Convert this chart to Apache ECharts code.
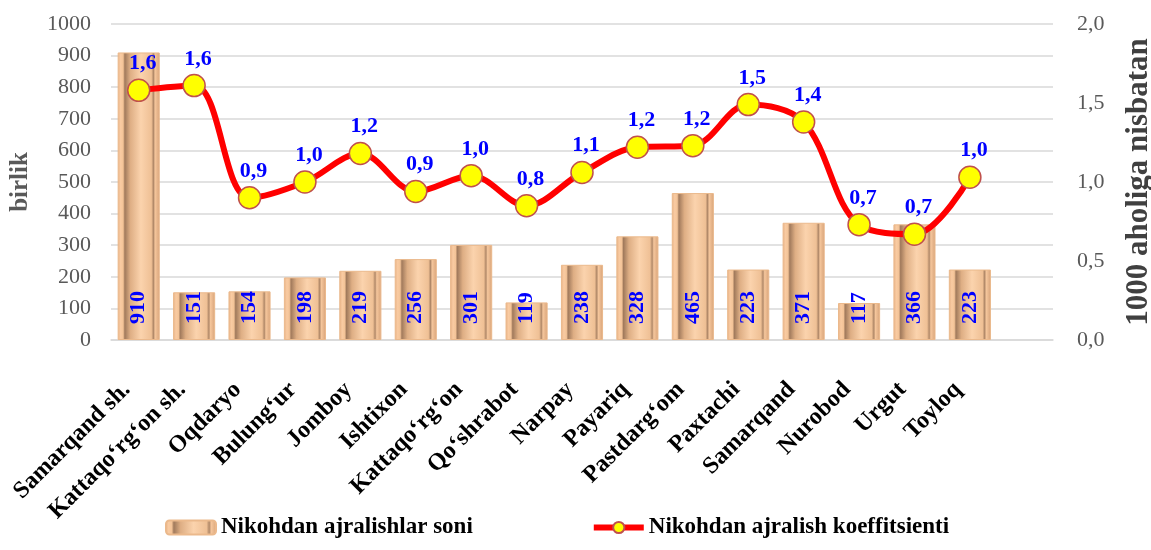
<!DOCTYPE html>
<html>
<head>
<meta charset="utf-8">
<script src="https://cdn.jsdelivr.net/npm/echarts@6/dist/echarts.min.js"></script>
<style>
  html, body { margin: 0; padding: 0; background: #fff; }
  #chart { width: 1151px; height: 550px; }
</style>
</head>
<body>
<div id="chart"></div>
<script>
// tumanlar (oxirgisi bo'sh joy)
var categories = [
  "Samarqand sh.", "Kattaqo\u2018rg\u2018on sh.", "Oqdaryo", "Bulung\u2018ur", "Jomboy",
  "Ishtixon", "Kattaqo\u2018rg\u2018on", "Qo\u2018shrabot", "Narpay", "Payariq",
  "Pastdarg\u2018om", "Paxtachi", "Samarqand", "Nurobod", "Urgut", "Toyloq", ""
];
var divorceCount = [910, 151, 154, 198, 219, 256, 301, 119, 238, 328, 465, 223, 371, 117, 366, 223, null];
var divorceRate = [1.58, 1.61, 0.90, 1.00, 1.18, 0.94, 1.04, 0.85, 1.06, 1.22, 1.23, 1.49, 1.38, 0.73, 0.67, 1.03, null];
var leftTicks = [0, 1000, 100];
var rightTicks = [0, 2, 0.5];

var serif = "Liberation Serif";
var chart = echarts.init(document.getElementById("chart"));

function comma(v, digits) {
  return Number(v).toFixed(digits).replace(".", ",");
}

var option = {
  animation: false,
  textStyle: { fontFamily: serif },
  grid: { left: 111, right: 98, top: 24, bottom: 210, containLabel: false, outerBoundsMode: "none" },
  legend: {
    bottom: 6,
    left: 160,
    itemGap: 118,
    itemWidth: 50,
    itemHeight: 14,
    textStyle: { fontFamily: serif, fontWeight: "bold", fontSize: 23, color: "#000" },
    data: [
      { name: "Nikohdan ajralishlar soni" },
      { name: "Nikohdan ajralish koeffitsienti", lineStyle: { width: 6 } }
    ]
  },
  xAxis: {
    type: "category",
    data: categories,
    axisTick: { show: false },
    axisLine: { lineStyle: { color: "#d9d9d9", width: 1.5 } },
    axisLabel: {
      interval: 0,
      rotate: 45,
      margin: 34,
      padding: [0, 17, 0, 0],
      fontFamily: serif,
      fontWeight: "bold",
      fontSize: 24,
      color: "#000"
    }
  },
  yAxis: [
    {
      type: "value",
      min: leftTicks[0],
      max: leftTicks[1],
      interval: leftTicks[2],
      name: "birlik",
      nameLocation: "middle",
      nameGap: 78,
      nameRotate: 90,
      nameTextStyle: { fontFamily: serif, fontWeight: "bold", fontSize: 25, color: "#595959" },
      axisLine: { show: false },
      axisTick: { show: false },
      axisLabel: {
        fontFamily: serif, fontSize: 22, color: "#595959", margin: 20,
        formatter: function (v) { return String(v); }
      },
      splitLine: { lineStyle: { color: "#d9d9d9", width: 1.5 } }
    },
    {
      type: "value",
      min: rightTicks[0],
      max: rightTicks[1],
      interval: rightTicks[2],
      position: "right",
      name: "1000 aholiga nisbatan",
      nameLocation: "middle",
      nameGap: 70,
      nameRotate: 90,
      nameTextStyle: { fontFamily: serif, fontWeight: "bold", fontSize: 31, color: "#404040" },
      axisLine: { show: false },
      axisTick: { show: false },
      splitLine: { show: false },
      axisLabel: {
        fontFamily: serif, fontSize: 22, color: "#595959", margin: 24,
        formatter: function (v) { return comma(v, 1); }
      }
    }
  ],
  series: [
    {
      name: "Nikohdan ajralishlar soni",
      type: "bar",
      yAxisIndex: 0,
      data: divorceCount,
      barWidth: "76%",
      itemStyle: {
        color: new echarts.graphic.LinearGradient(0, 0, 1, 0, [
          { offset: 0, color: "#e6b084" },
          { offset: 0.07, color: "#f9cba2" },
          { offset: 0.13, color: "#f3c397" },
          { offset: 0.17, color: "#a17a5c" },
          { offset: 0.3, color: "#deae84" },
          { offset: 0.55, color: "#fbd3ad" },
          { offset: 0.8, color: "#efc095" },
          { offset: 0.85, color: "#b08868" },
          { offset: 0.89, color: "#f5c69c" },
          { offset: 1, color: "#d6a278" }
        ]),
        borderColor: "#ebb98c",
        borderWidth: 1
      },
      label: {
        show: true,
        position: "insideBottom",
        rotate: 90,
        align: "left",
        verticalAlign: "middle",
        distance: 16,
        fontFamily: serif,
        fontWeight: "bold",
        fontSize: 22,
        color: "#0000ff"
      },
      z: 2
    },
    {
      name: "Nikohdan ajralish koeffitsienti",
      type: "line",
      yAxisIndex: 1,
      data: divorceRate,
      smooth: 0.35,
      symbol: "circle",
      symbolSize: 22,
      lineStyle: { color: "#ff0000", width: 6 },
      itemStyle: { color: "#ffff00", borderColor: "#c0504d", borderWidth: 1.5 },
      label: {
        show: true,
        position: "top",
        distance: 4,
        offset: [4, 0],
        fontFamily: serif,
        fontWeight: "bold",
        fontSize: 22,
        color: "#0000ff",
        formatter: function (p) { return comma(p.value, 1); }
      },
      z: 5
    }
  ]
};

chart.setOption(option);
</script>
</body>
</html>
